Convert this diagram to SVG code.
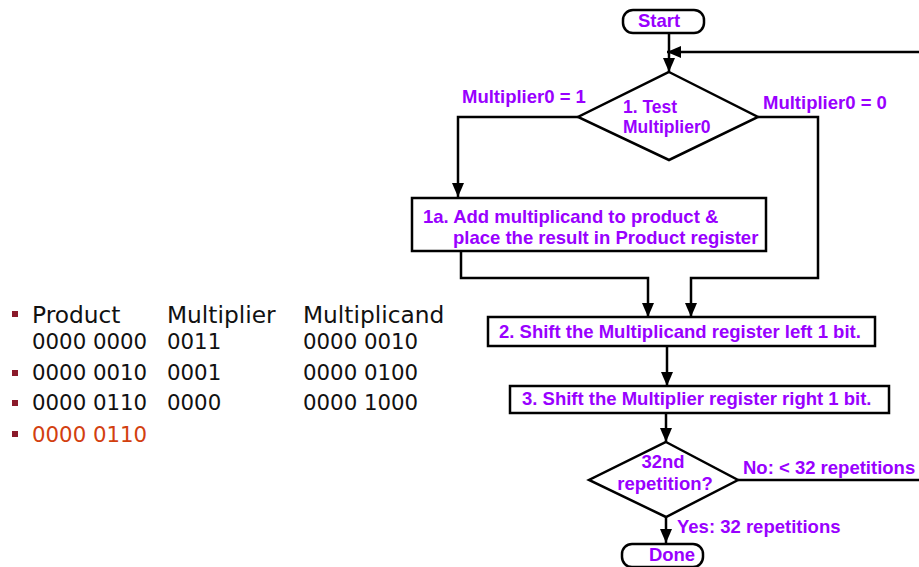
<svg xmlns="http://www.w3.org/2000/svg" width="919" height="567" viewBox="0 0 919 567">
  <style>
    .shape { fill: #ffffff; stroke: #000000; stroke-width: 2.5; }
    .wire { fill: none; stroke: #000000; stroke-width: 2.5; }
    .lbl { font-family: "Liberation Sans", Arial, sans-serif; font-weight: bold; font-size: 18.5px; fill: #9900ff; }
    .tight { font-size: 17.5px; }
    .tbl { font-family: "DejaVu Sans", Verdana, sans-serif; font-size: 21.3px; fill: #111111; }
    .head { font-size: 23.3px; }
    .hot { fill: #d2400f; }
    .bullet { fill: #8b1a2b; }
  </style>
  <defs>
    <marker id="arrow" viewBox="0 0 14 12" refX="14" refY="6" markerWidth="14" markerHeight="12" markerUnits="userSpaceOnUse" orient="auto">
      <path d="M0,0 L14,6 L0,12 z" fill="#000000"/>
    </marker>
  </defs>

  <!-- worked example table -->
  <g id="table">
    <rect class="bullet" x="12" y="311" width="6" height="6"/>
    <rect class="bullet" x="12" y="370" width="6" height="6"/>
    <rect class="bullet" x="12" y="400" width="6" height="6"/>
    <rect class="bullet" x="12" y="431" width="6" height="6"/>
    <text class="tbl head" x="32" y="323">Product</text>
    <text class="tbl head" x="167" y="323">Multiplier</text>
    <text class="tbl head" x="303" y="323">Multiplicand</text>
    <text class="tbl" x="32" y="349">0000 0000</text>
    <text class="tbl" x="167" y="349">0011</text>
    <text class="tbl" x="303" y="349">0000 0010</text>
    <text class="tbl" x="32" y="380">0000 0010</text>
    <text class="tbl" x="167" y="380">0001</text>
    <text class="tbl" x="303" y="380">0000 0100</text>
    <text class="tbl" x="32" y="410">0000 0110</text>
    <text class="tbl" x="167" y="410">0000</text>
    <text class="tbl" x="303" y="410">0000 1000</text>
    <text class="tbl hot" x="32" y="442">0000 0110</text>
  </g>

  <!-- connectors -->
  <g id="connectors">
    <path class="wire" d="M669,33 V72" marker-end="url(#arrow)"/>
    <path class="wire" d="M919,52 H667" marker-end="url(#arrow)"/>
    <path class="wire" d="M578,117 H458 V197" marker-end="url(#arrow)"/>
    <path class="wire" d="M758,117 H818 V278 H691 V317" marker-end="url(#arrow)"/>
    <path class="wire" d="M461,251 V278 H648 V317" marker-end="url(#arrow)"/>
    <path class="wire" d="M667,346 V386" marker-end="url(#arrow)"/>
    <path class="wire" d="M666,413 V442" marker-end="url(#arrow)"/>
    <path class="wire" d="M738,480 H919"/>
    <path class="wire" d="M666,517 V543" marker-end="url(#arrow)"/>
    <text class="lbl" x="462" y="103">Multiplier0 = 1</text>
    <text class="lbl" x="763" y="109">Multiplier0 = 0</text>
    <text class="lbl" x="743" y="474">No: &lt; 32 repetitions</text>
    <text class="lbl" x="677" y="533">Yes: 32 repetitions</text>
  </g>

  <g id="start">
    <rect class="shape" x="623" y="10" width="81" height="23" rx="10" ry="10"/>
    <text class="lbl" x="659" y="27" text-anchor="middle">Start</text>
  </g>

  <g id="test">
    <polygon class="shape" points="669,72 758,117 669,160 578,117"/>
    <text class="lbl tight" x="623" y="113">1. Test</text>
    <text class="lbl tight" x="623" y="132.5">Multiplier0</text>
  </g>

  <g id="add">
    <rect class="shape" x="412" y="198" width="354" height="53"/>
    <text class="lbl" x="423" y="223">1a. Add multiplicand to product &amp;</text>
    <text class="lbl" x="453" y="244">place the result in Product register</text>
  </g>

  <g id="shift-multiplicand">
    <rect class="shape" x="488" y="317" width="387" height="29"/>
    <text class="lbl" x="499" y="338">2. Shift the Multiplicand register left 1 bit.</text>
  </g>

  <g id="shift-multiplier">
    <rect class="shape" x="510" y="386" width="379" height="27"/>
    <text class="lbl" x="522" y="405">3. Shift the Multiplier register right 1 bit.</text>
  </g>

  <g id="repeat-test">
    <polygon class="shape" points="666,442 738,480 666,517 589,480"/>
    <text class="lbl" x="663" y="468" text-anchor="middle">32nd</text>
    <text class="lbl" x="665" y="490" text-anchor="middle">repetition?</text>
  </g>

  <g id="done">
    <rect class="shape" x="622" y="544" width="81" height="23" rx="10" ry="10"/>
    <text class="lbl" x="672" y="561" text-anchor="middle">Done</text>
  </g>
</svg>
